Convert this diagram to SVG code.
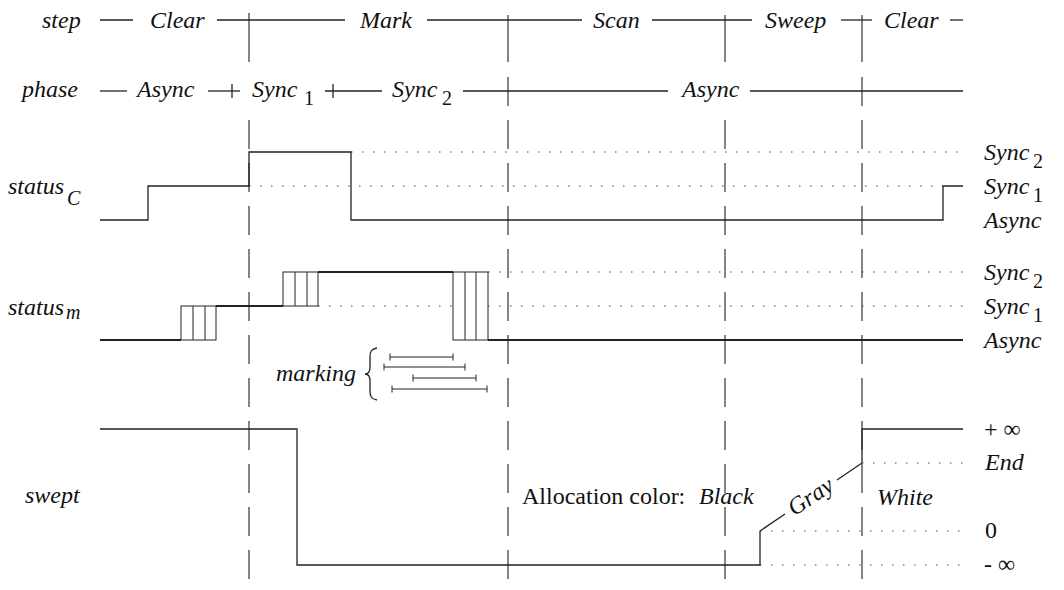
<svg xmlns="http://www.w3.org/2000/svg" width="1064" height="590" viewBox="0 0 1064 590">
<style>
text{font-family:"Liberation Serif","Times New Roman",serif;font-size:24px;fill:#111}
.i{font-style:italic}
.sub{font-size:20px}
.ln{stroke:#222;stroke-width:1.3;fill:none}
.thk{stroke:#222;stroke-width:2.2;fill:none}
.thin{stroke:#222;stroke-width:1;fill:none}
.dot{stroke:#444;stroke-width:1.2;stroke-dasharray:1.5 9.5;fill:none}
.dash{stroke:#444;stroke-width:1.3;stroke-dasharray:29 14;fill:none}
.vl{stroke:#444;stroke-width:1.3;fill:none}
</style>
<rect width="1064" height="590" fill="#fff"/>
<g id="dividers">
<line class="vl" x1="249" y1="13" x2="249" y2="62"/><line class="dash" x1="249" y1="120" x2="249" y2="580"/>
<line class="vl" x1="508" y1="15" x2="508" y2="62"/><line class="dash" x1="508" y1="77" x2="508" y2="580"/>
<line class="vl" x1="725" y1="15" x2="725" y2="62"/><line class="dash" x1="725" y1="120" x2="725" y2="580"/>
<line class="vl" x1="862" y1="15" x2="862" y2="62"/><line class="dash" x1="862" y1="77" x2="862" y2="580"/>
</g>
<g id="step-row">
<text class="i" x="42" y="28">step</text>
<line class="ln" x1="100" y1="20" x2="133" y2="20"/>
<text class="i" x="150" y="28">Clear</text>
<line class="ln" x1="217" y1="20" x2="345" y2="20"/>
<text class="i" x="360" y="28">Mark</text>
<line class="ln" x1="427" y1="20" x2="582" y2="20"/>
<text class="i" x="593" y="28">Scan</text>
<line class="ln" x1="652" y1="20" x2="752" y2="20"/>
<text class="i" x="765" y="28">Sweep</text>
<line class="ln" x1="841" y1="20" x2="872" y2="20"/>
<text class="i" x="884" y="28">Clear</text>
<line class="ln" x1="950" y1="20" x2="963" y2="20"/>
</g>
<g id="phase-row">
<text class="i" x="22" y="97">phase</text>
<line class="ln" x1="100" y1="91" x2="127" y2="91"/>
<text class="i" x="137" y="97">Async</text>
<line class="ln" x1="208" y1="91" x2="240" y2="91"/>
<line class="ln" x1="232" y1="84" x2="232" y2="98"/>
<text class="i" x="252" y="97">Sync</text><text class="sub" x="304" y="105">1</text>
<line class="ln" x1="325" y1="91" x2="382" y2="91"/>
<line class="ln" x1="333" y1="84" x2="333" y2="98"/>
<text class="i" x="392" y="97">Sync</text><text class="sub" x="442" y="105">2</text>
<line class="ln" x1="463" y1="91" x2="668" y2="91"/>
<text class="i" x="682" y="97">Async</text>
<line class="ln" x1="750" y1="91" x2="963" y2="91"/>
</g>
<g id="statusC">
<text class="i" x="8" y="194">status</text><text class="i sub" x="67" y="205">C</text>
<line class="dot" x1="351" y1="152" x2="963" y2="152"/>
<line class="dot" x1="249" y1="186" x2="943" y2="186"/>
<polyline class="ln" points="100,220 148,220 148,186 249,186 249,152 351,152 351,220 943,220 943,186 963,186"/>
<text class="i" x="984" y="160">Sync</text><text class="sub" x="1033" y="168">2</text>
<text class="i" x="984" y="194">Sync</text><text class="sub" x="1033" y="202">1</text>
<text class="i" x="984" y="228">Async</text>
</g>
<g id="statusM">
<text class="i" x="8" y="315">status</text><text class="i sub" x="66" y="319">m</text>
<line class="dot" x1="488" y1="272" x2="963" y2="272"/>
<line class="dot" x1="318" y1="306" x2="453" y2="306"/>
<line class="dot" x1="488" y1="306" x2="963" y2="306"/>
<line class="thk" x1="100" y1="340" x2="181" y2="340"/>
<rect class="thin" x="181" y="306" width="35" height="34"/>
<line class="thin" x1="193" y1="306" x2="193" y2="340"/><line class="thin" x1="205" y1="306" x2="205" y2="340"/>
<line class="thk" x1="216" y1="306" x2="283" y2="306"/>
<rect class="thin" x="283" y="272" width="35" height="34"/>
<line class="thin" x1="295" y1="272" x2="295" y2="306"/><line class="thin" x1="307" y1="272" x2="307" y2="306"/>
<line class="thk" x1="318" y1="272" x2="453" y2="272"/>
<rect class="thin" x="453" y="272" width="35" height="68"/>
<line class="thin" x1="465" y1="272" x2="465" y2="340"/><line class="thin" x1="476" y1="272" x2="476" y2="340"/>
<line class="thk" x1="488" y1="340" x2="963" y2="340"/>
<text class="i" x="984" y="280">Sync</text><text class="sub" x="1033" y="288">2</text>
<text class="i" x="984" y="314">Sync</text><text class="sub" x="1033" y="322">1</text>
<text class="i" x="984" y="348">Async</text>
</g>
<g id="marking">
<text class="i" x="276" y="381">marking</text>
<path class="ln" d="M377,348 C371,349 370,352 370,357 L370,367 C370,372 368,374 365,374 C368,374 370,376 370,381 L370,391 C370,396 371,399 377,400"/>
<g class="thin">
<path d="M390,357 H453 M390,353.5 V360.5 M453,353.5 V360.5"/>
<path d="M384,367 H465 M384,363.5 V370.5 M465,363.5 V370.5"/>
<path d="M413,378 H476 M413,374.5 V381.5 M476,374.5 V381.5"/>
<path d="M392,389 H487 M392,385.5 V392.5 M487,385.5 V392.5"/>
</g>
</g>
<g id="swept">
<text class="i" x="25" y="503">swept</text>
<line class="dot" x1="862" y1="463" x2="963" y2="463"/>
<line class="dot" x1="760" y1="531" x2="963" y2="531"/>
<line class="dot" x1="760" y1="565" x2="963" y2="565"/>
<polyline class="ln" points="100,429 297,429 297,565 760,565 760,531 785,514"/>
<polyline class="ln" points="837,480 862,463 862,429 963,429"/>
<text transform="translate(811,497) rotate(-33.7)" class="i" x="0" y="7" text-anchor="middle">Gray</text>
<text x="522" y="504">Allocation color:</text>
<text class="i" x="699" y="504">Black</text>
<text class="i" x="877" y="505">White</text>
<text x="984" y="437">+ ∞</text>
<text class="i" x="985" y="470">End</text>
<text x="985" y="538">0</text>
<text x="984" y="572">- ∞</text>
</g>
</svg>
